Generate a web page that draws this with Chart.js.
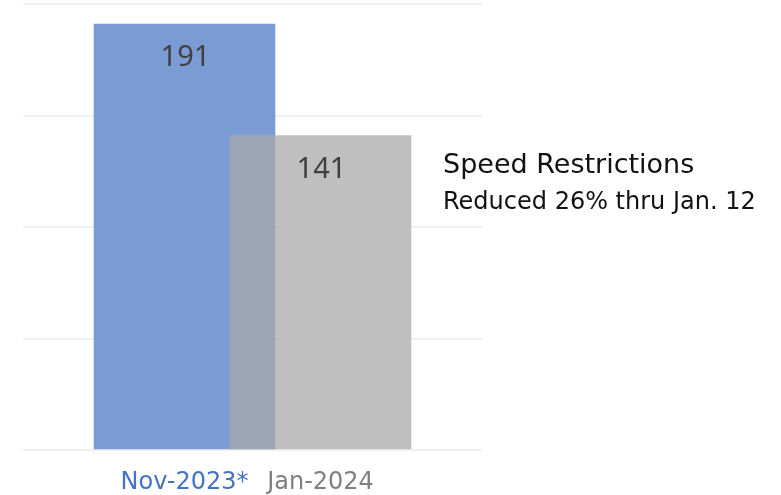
<!DOCTYPE html>
<html>
<head>
<meta charset="utf-8">
<script src="https://cdn.jsdelivr.net/npm/chart.js@4/dist/chart.umd.min.js"></script>
<style>
  html, body { margin: 0; padding: 0; background: #fff; }
  #wrap { width: 781px; height: 495px; }
</style>
</head>
<body>
<div id="wrap"><canvas id="chart" width="781" height="495"></canvas></div>
<script>
// data
const categories = ['Nov-2023*', 'Jan-2024'];
const values = [191, 141];
const barColors = ['#7b9bd5', 'rgba(168,168,168,0.74)'];
const labelColors = ['#4472c4', '#7f7f7f'];
const yTicks = [0, 50, 100, 150, 200];
const noteLines = ['Speed Restrictions', 'Reduced 26% thru Jan. 12'];

// valeurs dans le haut des barres
const valueLabels = {
  id: 'valueLabels',
  afterDatasetsDraw(chart) {
    const ctx = chart.ctx;
    ctx.save();
    ctx.font = '29px "Noto Sans", sans-serif';
    ctx.fillStyle = '#404040';
    ctx.textAlign = 'center';
    ctx.textBaseline = 'middle';
    chart.data.datasets.forEach((ds, i) => {
      chart.getDatasetMeta(i).data.forEach(bar => {
        ctx.fillText(String(ds.data[0].y), bar.x + 1, bar.y + 34);
      });
    });
    ctx.restore();
  }
};

// note a droite
const note = {
  id: 'note',
  afterDraw(chart) {
    const ctx = chart.ctx;
    ctx.save();
    ctx.fillStyle = '#111';
    ctx.textAlign = 'left';
    ctx.textBaseline = 'alphabetic';
    ctx.font = '27px "DejaVu Sans", sans-serif';
    ctx.fillText(noteLines[0], 443, 173);
    ctx.font = '24px "DejaVu Sans", sans-serif';
    ctx.fillText(noteLines[1], 443, 209);
    ctx.restore();
  }
};

const ctx = document.getElementById('chart').getContext('2d');
new Chart(ctx, {
  type: 'bar',
  data: {
    datasets: categories.map((c, i) => ({
      label: c,
      data: [{ x: i, y: values[i] }],
      backgroundColor: barColors[i],
      borderWidth: 0,
      barThickness: 181,
      grouped: false,
      order: categories.length - i
    }))
  },
  options: {
    responsive: false,
    animation: false,
    layout: { padding: { left: 23, right: 299, top: 4, bottom: 0 } },
    plugins: {
      legend: { display: false },
      tooltip: { enabled: false }
    },
    scales: {
      x: {
        type: 'linear',
        offset: false,
        min: -1.1875,
        max: 2.1875,
        grid: { display: false, drawTicks: false },
        border: { display: false },
        afterBuildTicks: s => { s.ticks = categories.map((c, i) => ({ value: i })); },
        afterFit: s => { s.height = 45; },
        ticks: {
          padding: 18,
          autoSkip: false,
          maxRotation: 0,
          font: { family: '"DejaVu Sans", sans-serif', size: 24 },
          color: c => labelColors[c.index] || '#7f7f7f',
          callback: v => categories[v] || ''
        }
      },
      y: {
        min: 0,
        max: 200,
        z: 1,
        afterBuildTicks: s => { s.ticks = yTicks.map(v => ({ value: v })); },
        grid: { color: 'rgba(0,0,0,0.06)', lineWidth: 2, drawTicks: false },
        border: { display: false },
        ticks: { display: false }
      }
    }
  },
  plugins: [valueLabels, note]
});
</script>
</body>
</html>
